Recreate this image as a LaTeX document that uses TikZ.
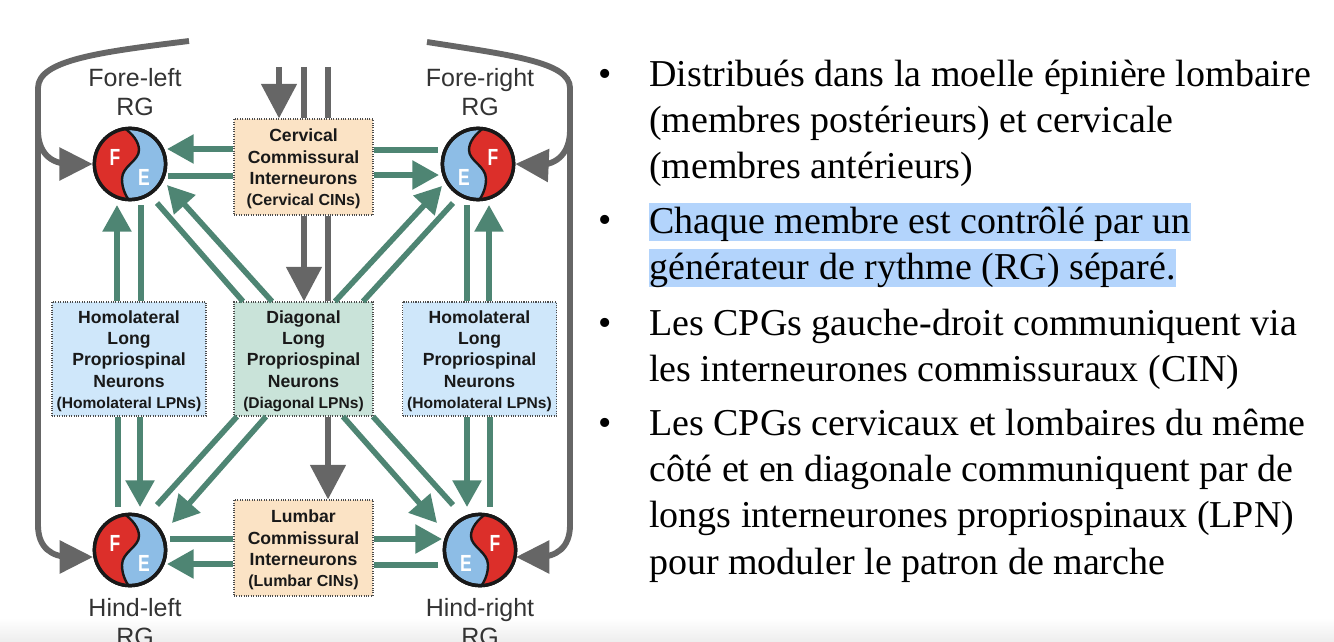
\documentclass[tikz,border=0pt]{standalone}
\usepackage{fontspec}
\setmainfont{Liberation Serif}
\setsansfont{Liberation Sans}
\usetikzlibrary{arrows.meta}
\definecolor{rgred}{HTML}{DC2F2A}
\definecolor{rgblue}{HTML}{8DBDE6}
\definecolor{linkgreen}{HTML}{4E8573}
\definecolor{busgray}{HTML}{666666}
\definecolor{cinfill}{HTML}{FBE3C5}
\definecolor{homfill}{HTML}{CFE7FA}
\definecolor{diagfill}{HTML}{C9E3D9}
\definecolor{markblue}{HTML}{B3D4FC}
\newcommand{\boxtop}{\rule{0pt}{12.5pt}}

\begin{document}
\begin{tikzpicture}[x=0.75pt, y=-0.75pt,
	every node/.style={font=\sffamily},
	wire/.style={draw=linkgreen, line width=4.2pt},
	wirehead/.style={wire, -{Triangle[length=20pt,width=21pt]}},
	bus/.style={draw=busgray, line width=4.4pt},
	bushead/.style={bus, -{Triangle[length=25pt,width=24pt]}},
	cordhead/.style={draw=busgray, line width=4.6pt, -{Triangle[length=26pt,width=26pt]}},
	cord/.style={draw=busgray, line width=4.6pt},
	neuronbox/.style={draw=black!70, densely dotted, line width=0.8pt, inner sep=0pt, align=center, text=black!90, font=\sffamily\bfseries\fontsize{13.2}{16}\selectfont},
	cinbox/.style={neuronbox, fill=cinfill, minimum width=104.25pt, minimum height=72pt},
	lpnbox/.style={neuronbox, minimum height=85.5pt},
	rgnode/.style={circle, draw=black!90, line width=2.6pt, minimum size=53.4pt, inner sep=0pt},
	rglabel/.style={align=center, text=black!80, font=\sffamily\fontsize{18.75}{21.75}\selectfont},
	rgletter/.style={text=white, inner sep=0pt, font=\sffamily\bfseries\fontsize{17.5}{17.5}\selectfont\addfontfeature{FakeStretch=0.75}},
	item/.style={anchor=north west, inner sep=0pt, align=left, text=black, font=\rmfamily\fontsize{28.5}{34.6}\selectfont},
	dot/.style={anchor=center, inner sep=0pt, text=black, font=\rmfamily\fontsize{28.5}{34.6}\selectfont}]
	\useasboundingbox (0,0) rectangle (1334,642);
	\shade[top color=white, bottom color=black!7] (0,618) rectangle (1334,642);

	\fill[markblue] (649,203) rectangle (1191,241);
	\fill[markblue] (649,249) rectangle (1176,287);

	\foreach \rgname/\rgx/\rgy/\rgflip in {fl/130/164/1, fr/478/164/-1, hl/130/550/1, hr/480/550/-1} {
		\node[rgnode, fill=rgblue] (\rgname) at (\rgx,\rgy) {};
		\begin{scope}[shift={(\rgx,\rgy)}, xscale=\rgflip]
			\clip (0,0) circle (27pt);
			\fill[rgred] (-7,-37) .. controls (3,-30) and (9,-22) .. (9,-14) .. controls (9,-3) and (-8,2) .. (-8,15) .. controls (-8,25) and (-4,32) .. (0,38) -- (-45,38) -- (-45,-37) -- cycle;
			\draw[black!90, line width=1.8pt] (-7,-37) .. controls (3,-30) and (9,-22) .. (9,-14) .. controls (9,-3) and (-8,2) .. (-8,15) .. controls (-8,25) and (-4,32) .. (0,38);
			\node[rgletter] (\rgname-f) at (-15,-7) {F};
			\node[rgletter] (\rgname-e) at (14,13) {E};
		\end{scope}
		\draw[black!90, line width=2.6pt] (\rgname) circle (26.7pt);
	}

	\node[rglabel] (fl-label) at (135,92) {Fore-left\\RG};
	\node[rglabel] (fr-label) at (480,92) {Fore-right\\RG};
	\node[rglabel] (hl-label) at (135,622) {Hind-left\\RG};
	\node[rglabel] (hr-label) at (480,622) {Hind-right\\RG};

	\node[cinbox] (cerv) at (303.5,167) {\boxtop Cervical\\Commissural\\Interneurons\\{\fontsize{12}{16}\selectfont(Cervical CINs)}};
	\node[cinbox] (lumb) at (303.5,548) {\boxtop Lumbar\\Commissural\\Interneurons\\{\fontsize{12}{16}\selectfont(Lumbar CINs)}};
	\node[lpnbox, fill=homfill, minimum width=115.5pt] (homl) at (129,359) {\boxtop Homolateral\\Long\\Propriospinal\\Neurons\\{\fontsize{11.7}{16}\selectfont(Homolateral LPNs)}};
	\node[lpnbox, fill=homfill, minimum width=115.5pt] (homr) at (479.5,359) {\boxtop Homolateral\\Long\\Propriospinal\\Neurons\\{\fontsize{11.7}{16}\selectfont(Homolateral LPNs)}};
	\node[lpnbox, fill=diagfill, minimum width=104.25pt] (diag) at (303.5,359) {\boxtop Diagonal\\Long\\Propriospinal\\Neurons\\{\fontsize{11.7}{16}\selectfont(Diagonal LPNs)}};

	\draw[wirehead] ([shift={(0,-18)}]cerv.west) -- ([shift={(37,-15)}]fl.center);
	\draw[wire] ([shift={(0,9)}]cerv.west) -- ([shift={(38,12)}]fl.center);
	\draw[wire] ([shift={(0,-17)}]cerv.east) -- ([shift={(-40,-14)}]fr.center);
	\draw[wirehead] ([shift={(0,8)}]cerv.east) -- ([shift={(-39,11)}]fr.center);
	\draw[wirehead] ([shift={(-31.5,0)}]diag.north) -- ([shift={(37,21)}]fl.center);
	\draw[wire] ([shift={(-60.5,0)}]diag.north) -- ([shift={(27,39)}]fl.center);
	\draw[wirehead] ([shift={(31.5,0)}]diag.north) -- ([shift={(-36,22)}]fr.center);
	\draw[wire] ([shift={(59.5,0)}]diag.north) -- ([shift={(-25,39)}]fr.center);
	\draw[wirehead] ([shift={(-12,0)}]homl.north) -- ([shift={(-13,41)}]fl.center);
	\draw[wire] ([shift={(12,0)}]homl.north) -- ([shift={(11,41)}]fl.center);
	\draw[wire] ([shift={(-12.5,0)}]homr.north) -- ([shift={(-11,41)}]fr.center);
	\draw[wirehead] ([shift={(9.5,0)}]homr.north) -- ([shift={(11,41)}]fr.center);

	\draw[wire] ([shift={(-11,0)}]homl.south) -- ([shift={(-12,-43)}]hl.center);
	\draw[wirehead] ([shift={(11,0)}]homl.south) -- ([shift={(10,-43)}]hl.center);
	\draw[wirehead] ([shift={(-12.5,0)}]homr.south) -- ([shift={(-13,-43)}]hr.center);
	\draw[wire] ([shift={(10.5,0)}]homr.south) -- ([shift={(10,-43)}]hr.center);
	\draw[wire] ([shift={(-66.5,0)}]diag.south) -- ([shift={(27,-45)}]hl.center);
	\draw[wirehead] ([shift={(-37.5,0)}]diag.south) -- ([shift={(42,-27)}]hl.center);
	\draw[wirehead] ([shift={(39.5,0)}]diag.south) -- ([shift={(-43,-27)}]hr.center);
	\draw[wire] ([shift={(69.5,0)}]diag.south) -- ([shift={(-27,-45)}]hr.center);
	\draw[wire] ([shift={(0,-9)}]lumb.west) -- ([shift={(40,-11)}]hl.center);
	\draw[wirehead] ([shift={(0,16)}]lumb.west) -- ([shift={(37,14)}]hl.center);
	\draw[wirehead] ([shift={(0,-9)}]lumb.east) -- ([shift={(-38,-11)}]hr.center);
	\draw[wire] ([shift={(0,17)}]lumb.east) -- ([shift={(-42,15)}]hr.center);

	\coordinate (busl) at (189,41);
	\coordinate (busr) at (427,42);
	\coordinate (tapl) at (38,130);
	\coordinate (tapr) at (570,130);
	\draw[bushead] (busl) .. controls (100,52) and (38,60) .. (38,88) -- (38,525) .. controls (38,548) and (52,557) .. (70,557) -- ([shift={(-37,7)}]hl.center);
	\draw[bushead] (tapl) .. controls (38,152) and (50,164) .. (70,164) -- (fl.west);
	\draw[bushead] (busr) .. controls (510,55) and (570,62) .. (570,88) -- (570,525) .. controls (570,548) and (556,557) .. (538,557) -- ([shift={(36,7)}]hr.center);
	\draw[bushead] (tapr) .. controls (570,152) and (558,165) .. (538,165) -- (fr.east);

	\coordinate (cordc) at (279,67);
	\coordinate (cordd) at (304,67);
	\coordinate (corde) at (328,67);
	\draw[cordhead] (cordc) -- (cordc |- cerv.north);
	\draw[cord] (cordd) -- (cordd |- cerv.north);
	\draw[cord] (corde) -- (corde |- cerv.north);
	\draw[cordhead] (cordd |- cerv.south) -- (cordd |- diag.north);
	\draw[cord] (corde |- cerv.south) -- (corde |- diag.north);
	\draw[cordhead] (corde |- diag.south) -- (corde |- lumb.north);

	\node[dot] (dot1) at (605,78) {•};
	\node[dot] (dot2) at (605,224) {•};
	\node[dot] (dot3) at (605,327) {•};
	\node[dot] (dot4) at (605,427) {•};
	\node[item] (item1) at (649,60) {Distribués dans la moelle épinière lombaire\\(membres postérieurs) et cervicale\\(membres antérieurs)};
	\node[item] (item2) at (649,207) {Chaque membre est contrôlé par un\\générateur de rythme (RG) séparé.};
	\node[item] (item3) at (649,309) {Les CPGs gauche-droit communiquent via\\les interneurones commissuraux (CIN)};
	\node[item] (item4) at (649,409) {Les CPGs cervicaux et lombaires du même\\côté et en diagonale communiquent par de\\longs interneurones propriospinaux (LPN)\\pour moduler le patron de marche};
\end{tikzpicture}
\end{document}
